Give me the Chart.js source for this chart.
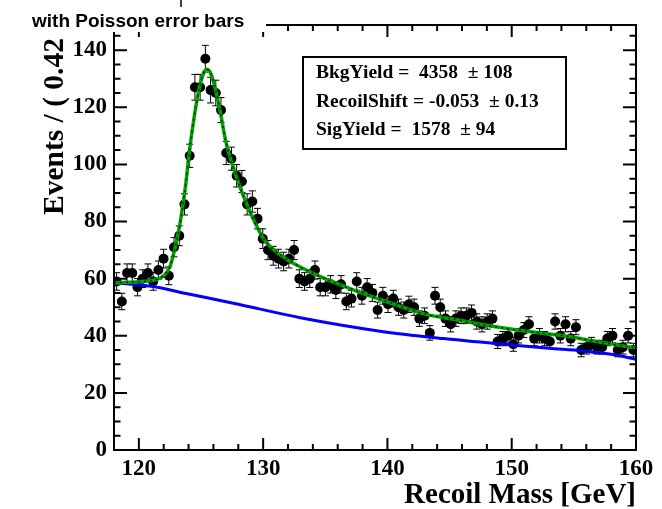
<!DOCTYPE html>
<html>
<head>
<meta charset="utf-8">
<script src="https://cdn.jsdelivr.net/npm/chart.js@4.4.1/dist/chart.umd.min.js"></script>
<style>
  html, body { margin: 0; padding: 0; background: #fff; }
</style>
</head>
<body>
<canvas id="recoilChart" width="662" height="509"></canvas>
<script>
// histogram: 100 bins of 0.42 GeV between 118 and 160
const binLow = 118;
const binWidth = 0.42;
const counts = [
  59, 52, 62, 62, 57, 60, 62, 59, 63, 67,
  61, 71, 75, 86, 103, 127, 127, 137, 126, 125,
  119, 104, 102, 96, 94, 86, 87, 81, 74, 70,
  68, 67, 66, 67, 70, 60, 59, 60, 63, 57,
  57, 58, 56, 58, 52, 53, 59, 54, 57, 55,
  49, 54, 51, 53, 50, 49, 51, 50, 46, 47,
  41, 54, 50, 46, 44, 46, 47, 47, 48, 45,
  44, 45, 46, 38, 39, 40, 37, 40, 42, 44,
  39, 40, 39, 38, 45, 40, 44, 39, 43, 35,
  36, 37, 36, 36, 39, 40, 35, 36, 40, 35
];

// fitted curves
const bkgX = [118, 121, 124, 127.6, 133, 139.4, 144.5, 149.3, 153, 155.7, 158, 160];
const bkgY = [58.6, 57.3, 54.6, 51.4, 46.3, 41.6, 39, 37, 35.6, 34.7, 33.5, 31.8];
const totX = [118, 119, 120, 121, 121.6, 122, 122.5, 122.9, 123.3, 123.6, 123.8, 124.05, 124.5, 124.9,
  125.2, 125.45, 125.7, 126, 126.5, 127, 127.7, 128.5, 129.3, 130.1, 131.5, 132.8, 134.7, 137.3,
  139.9, 143.1, 145.7, 148.4, 151.5, 154.2, 156.8, 160];
const totY = [58.5, 58.7, 58.9, 59.3, 60, 61, 64.2, 70.5, 79, 87.5, 94, 104, 118, 127.5,
  131.8, 133.3, 132.6, 129, 119.5, 108, 97.5, 88, 80, 73.5, 68, 64.5, 60.5, 56,
  52, 47.5, 45.5, 43.3, 41.4, 40, 38, 35.7];

const xTicks = [120, 130, 140, 150, 160];
const yTicks = [0, 20, 40, 60, 80, 100, 120, 140];
const fitText = [
  'BkgYield =  4358  \u00b1 108',
  'RecoilShift = -0.053  \u00b1 0.13',
  'SigYield =  1578  \u00b1 94'
];
const title = 'with Poisson error bars';
const xTitle = 'Recoil Mass [GeV]';
const yTitle = 'Events / ( 0.42 )';

const points = counts.map((v, i) => ({ x: binLow + binWidth * (i + 0.5), y: v }));
const toXY = (xs, ys) => xs.map((x, i) => ({ x: x, y: ys[i] }));

const serif = 'Liberation Serif, Times New Roman, serif';

const rootStyle = {
  id: 'rootStyle',
  beforeDatasetsDraw(chart) {
    const { ctx, scales: { x, y } } = chart;
    ctx.save();
    ctx.strokeStyle = '#000';
    ctx.lineWidth = 1;
    points.forEach(p => {
      const err = 0.4 * Math.sqrt(p.y);
      const px = x.getPixelForValue(p.x);
      const top = y.getPixelForValue(p.y + err);
      const bot = y.getPixelForValue(p.y - err);
      ctx.beginPath();
      ctx.moveTo(px, top); ctx.lineTo(px, bot);
      ctx.moveTo(px - 3.5, top); ctx.lineTo(px + 3.5, top);
      ctx.moveTo(px - 3.5, bot); ctx.lineTo(px + 3.5, bot);
      ctx.stroke();
    });
    ctx.restore();
  },
  afterDraw(chart) {
    const { ctx, chartArea: a, scales: { x, y } } = chart;
    ctx.save();
    // frame
    ctx.strokeStyle = '#000';
    ctx.lineWidth = 2;
    ctx.strokeRect(a.left, a.top, a.right - a.left, a.bottom - a.top);
    // ticks on all four sides
    ctx.beginPath();
    for (let v = 118; v <= 160; v += 2) {
      const px = x.getPixelForValue(v);
      const len = v % 10 === 0 ? 12 : 6;
      ctx.moveTo(px, a.bottom); ctx.lineTo(px, a.bottom - len);
      ctx.moveTo(px, a.top); ctx.lineTo(px, a.top + len);
    }
    for (let v = 0; v <= 145; v += 5) {
      const py = y.getPixelForValue(v);
      const len = v % 20 === 0 ? 13 : 6.5;
      ctx.moveTo(a.left, py); ctx.lineTo(a.left + len, py);
      ctx.moveTo(a.right, py); ctx.lineTo(a.right - len, py);
    }
    ctx.stroke();

    // fit result box
    ctx.fillStyle = '#fff';
    ctx.fillRect(303, 57, 263, 92);
    ctx.strokeRect(303, 57, 263, 92);
    ctx.fillStyle = '#000';
    ctx.font = 'bold 19.5px ' + serif;
    ctx.textAlign = 'left';
    ctx.textBaseline = 'alphabetic';
    [78, 107, 135].forEach((by, i) => ctx.fillText(fitText[i], 316, by));

    // axis titles
    ctx.font = 'bold 29px ' + serif;
    ctx.textAlign = 'right';
    ctx.fillText(xTitle, a.right, 503);
    ctx.save();
    ctx.translate(55, 215);
    ctx.rotate(-Math.PI / 2);
    ctx.font = 'bold 29.5px ' + serif;
    ctx.textAlign = 'left';
    ctx.textBaseline = 'middle';
    ctx.fillText(yTitle, 0, 0);
    ctx.restore();

    // title pave
    ctx.fillStyle = '#fff';
    ctx.fillRect(0, 0, 266, 32);
    ctx.fillStyle = '#000';
    ctx.font = 'bold 19px Liberation Sans, Arial, sans-serif';
    ctx.textAlign = 'left';
    ctx.fillText(title, 32, 27);
    ctx.lineWidth = 1.5;
    ctx.beginPath();
    ctx.moveTo(181, 0); ctx.lineTo(181, 7);
    ctx.stroke();
    ctx.restore();
  }
};

const tickFont = { family: serif, weight: 'bold', size: 23 };

new Chart(document.getElementById('recoilChart'), {
  type: 'scatter',
  data: {
    datasets: [
      {
        label: 'data',
        data: points,
        pointRadius: 5,
        pointBackgroundColor: '#000',
        pointBorderColor: '#000',
        pointBorderWidth: 0,
        showLine: false,
        order: 3
      },
      {
        label: 'background',
        data: toXY(bkgX, bkgY),
        showLine: true,
        borderColor: '#0000ff',
        borderWidth: 3,
        pointRadius: 0,
        cubicInterpolationMode: 'monotone',
        order: 2
      },
      {
        label: 'total',
        data: toXY(totX, totY),
        showLine: true,
        borderColor: '#00a000',
        borderWidth: 3.5,
        pointRadius: 0,
        cubicInterpolationMode: 'monotone',
        order: 1
      },
      {
        label: 'total dashed',
        data: toXY(totX, totY),
        showLine: true,
        borderColor: 'rgba(0,0,0,0.75)',
        borderWidth: 1.5,
        borderDash: [2, 4],
        pointRadius: 0,
        cubicInterpolationMode: 'monotone',
        order: 0
      }
    ]
  },
  options: {
    responsive: false,
    animation: false,
    events: [],
    layout: { padding: { top: 25, right: 26, left: 0, bottom: 0 } },
    scales: {
      x: {
        type: 'linear',
        min: 118,
        max: 160,
        grid: { display: false, drawTicks: false },
        border: { display: false },
        afterBuildTicks: s => { s.ticks = xTicks.map(v => ({ value: v })); },
        afterFit: s => { s.height = 59; },
        ticks: { font: tickFont, color: '#000', padding: 5, maxRotation: 0, autoSkip: false }
      },
      y: {
        type: 'linear',
        min: 0,
        max: 148.8,
        grid: { display: false, drawTicks: false },
        border: { display: false },
        afterBuildTicks: s => { s.ticks = yTicks.map(v => ({ value: v })); },
        afterFit: s => { s.width = 114; },
        ticks: { font: tickFont, color: '#000', padding: 7, autoSkip: false }
      }
    },
    plugins: {
      legend: { display: false },
      tooltip: { enabled: false }
    }
  },
  plugins: [rootStyle]
});
</script>
</body>
</html>
